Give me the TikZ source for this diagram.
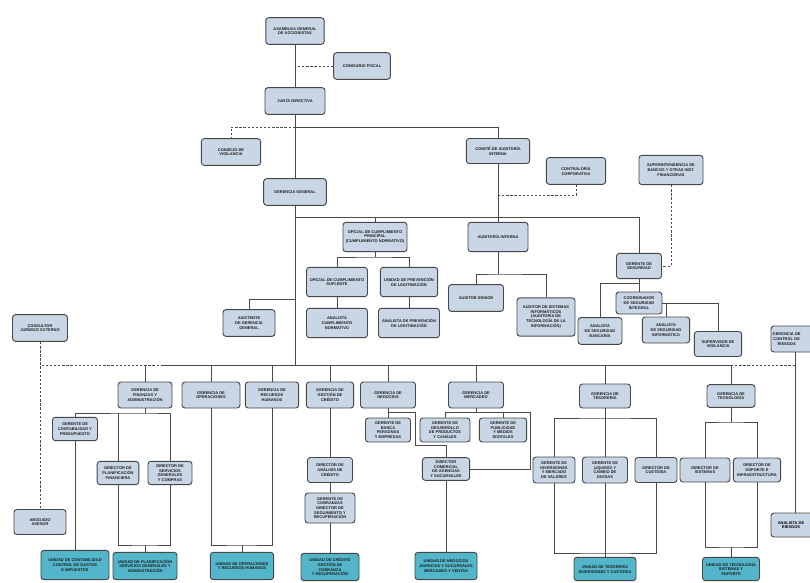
\documentclass[tikz,border=0pt]{standalone}
\usepackage{fontspec}
\setmainfont{Liberation Sans}
\newcommand{\orgfont}{\fontsize{3.4}{4.0}\selectfont\bfseries}
\definecolor{boxblue}{HTML}{C9D6E6}
\definecolor{boxteal}{HTML}{52B5CA}
\definecolor{linegray}{HTML}{4A4A4A}
\tikzset{
  orgbox/.style={draw=black!72, line width=0.8pt, rounded corners=2.5pt, fill=boxblue,
    align=center, inner sep=1pt, minimum height=0.8cm, font=\orgfont, text=black!88},
  box/.style={orgbox, minimum width=#1},
  box/.default=1.65cm,
  lowbox/.style={orgbox, minimum width=#1, minimum height=0.7cm},
  lowbox/.default=1.4cm,
  unit/.style={orgbox, fill=boxteal, minimum width=#1, minimum height=0.82cm},
  unit/.default=1.9cm,
  link/.style={draw=linegray, line width=0.65pt},
  dlink/.style={link, dashed, dash pattern=on 2pt off 1.5pt}
}
\begin{document}
\begin{tikzpicture}[x=0.03cm, y=-0.03cm]
\useasboundingbox (0,0) rectangle (810,582);

% Directorio
\node[box=1.75cm] (top) at (295,31) {ASAMBLEA GENERAL\\DE ACCIONISTAS};
\node[box=1.7cm] (comis) at (362,66) {COMISARIO FISCAL};
\node[box=1.8cm] (junta) at (295,101) {JUNTA DIRECTIVA};
\node[box=1.78cm] (ctrl) at (231,152) {CONSEJO DE\\VIGILANCIA};
\node[box=1.88cm] (gerg) at (295,192) {GERENCIA GENERAL};
\node[box=1.9cm, minimum height=0.75cm] (comite) at (498,151) {COMIT\'E DE AUDITOR\'IA\\INTERNA};
\node[box=1.78cm] (contral) at (576,171) {CONTRALOR\'IA\\CORPORATIVA};
\node[box=1.92cm, minimum height=0.88cm] (supint) at (671,170) {SUPERINTENDENCIA DE\\BANCOS Y OTRAS INST.\\FINANCIERAS};

% Staff
\node[box=1.92cm, minimum height=0.88cm] (ofcp) at (375,237) {OFICIAL DE CUMPLIMIENTO\\PRINCIPAL\\(CUMPLIMIENTO NORMATIVO)};
\node[box=1.8cm, minimum height=0.88cm] (audi) at (498,237) {AUDITOR\'IA INTERNA};
\node[box=1.83cm, minimum height=0.88cm] (ofcs) at (337,282) {OFICIAL DE CUMPLIMIENTO\\SUPLENTE};
\node[box=1.72cm, minimum height=0.88cm] (uprev) at (409,282) {UNIDAD DE PREVENCI\'ON\\DE LEGITIMACI\'ON};
\node[box=1.83cm, minimum height=0.88cm] (anl1) at (337,323) {ANALISTA\\CUMPLIMIENTO\\NORMATIVO};
\node[box=1.83cm, minimum height=0.88cm] (anl2) at (409,323) {ANALISTA DE PREVENCI\'ON\\DE LEGITIMACI\'ON};
\node[box=1.65cm] (aud1) at (476,298) {AUDITOR SENIOR};
\node[box=1.74cm, minimum height=1.15cm] (aud2) at (546,317) {AUDITOR DE SISTEMAS\\INFORM\'ATICOS\\(AUDITOR\'IA DE\\TECNOLOG\'IA DE LA\\INFORMACI\'ON)};

% Seguridad
\node[box=1.35cm, minimum height=0.76cm] (gsec) at (639,266) {GERENTE DE\\SEGURIDAD};
\node[lowbox=1.38cm, minimum height=0.66cm] (coord) at (639,303) {COORDINADOR\\DE SEGURIDAD\\INTEGRAL};
\node[box=1.32cm] (anseg) at (600,331) {ANALISTA\\DE SEGURIDAD\\BANCARIA};
\node[box=1.42cm, minimum height=0.78cm] (anseg2) at (666,330) {ANALISTA\\DE SEGURIDAD\\INFORM\'ATICA};
\node[box=1.42cm, minimum height=0.75cm] (vigil) at (718,344) {SUPERVISOR DE\\VIGILANCIA};

% Asesores
\node[box=1.65cm] (consul) at (40,328) {CONSULTOR\\JUR\'IDICO EXTERNO};
\node[box=1.56cm] (asist) at (249,323) {ASISTENTE\\DE GERENCIA\\GENERAL};
\node[box=1.44cm, minimum height=0.78cm, text width=0.72cm, xshift=0cm] (riesgo) at (795,339) {\hspace*{-0.5cm}GERENCIA DE\\\hspace*{-0.5cm}CONTROL DE\\\hspace*{-0.5cm}RIESGOS};
\node[box=1.44cm, minimum height=0.72cm] (anries) at (795,525) {};
\node[font=\orgfont, align=center, inner sep=0pt] (anriestxt) at (791,525) {ANALISTA DE\\RIESGOS};
\node[box=1.56cm, minimum height=0.75cm] (abog) at (40,522) {ABOGADO\\ASESOR};

% Gerencias de linea
\node[box=1.62cm, minimum height=0.78cm] (gA) at (145,395) {GERENCIA DE\\FINANZAS Y\\ADMINISTRACI\'ON};
\node[box=1.74cm, minimum height=0.78cm] (gB) at (211,395) {GERENCIA DE\\OPERACIONES};
\node[box=1.6cm, minimum height=0.78cm] (gC) at (272,395) {GERENCIA DE\\RECURSOS\\HUMANOS};
\node[box=1.42cm, minimum height=0.78cm] (gD) at (330,395) {GERENCIA DE\\GESTI\'ON DE\\CR\'EDITO};
\node[box=1.65cm, minimum height=0.78cm] (gE) at (388,395) {GERENCIA DE\\NEGOCIOS};
\node[box=1.65cm, minimum height=0.78cm] (gF) at (476,395) {GERENCIA DE\\MERCADEO};
\node[box=1.53cm, minimum height=0.72cm] (gG) at (605,396) {GERENCIA DE\\TESORER\'IA};
\node[box=1.44cm, minimum height=0.68cm] (gH) at (731,396) {GERENCIA DE\\TECNOLOG\'IA};

% Finanzas
\node[lowbox=1.35cm] (a1) at (75,429) {GERENTE DE\\CONTABILIDAD Y\\PRESUPUESTO};
\node[lowbox=1.25cm] (a2) at (118,473) {DIRECTOR DE\\PLANIFICACI\'ON\\FINANCIERA};
\node[lowbox=1.32cm] (a3) at (170,473) {DIRECTOR DE\\SERVICIOS\\GENERALES\\Y COMPRAS};

% Credito
\node[box=1.35cm, minimum height=0.75cm] (d1) at (330,470) {DIRECTOR DE\\AN\'ALISIS DE\\CR\'EDITO};
\node[box=1.5cm, minimum height=0.9cm] (d2) at (330,508) {GERENTE DE\\COBRANZAS\\DIRECTOR DE\\SEGUIMIENTO Y\\RECUPERACI\'ON};

% Negocios y mercadeo
\node[lowbox=1.35cm, minimum height=0.72cm] (e1) at (388,430) {GERENTE DE\\BANCA\\PERSONAS\\Y EMPRESAS};
\node[lowbox=1.42cm, minimum height=0.68cm] (dcom) at (446,469) {DIRECTOR\\COMERCIAL\\DE AGENCIAS\\Y SUCURSALES};
\node[lowbox=1.5cm, minimum height=0.72cm] (f1) at (445,430) {GERENTE DE\\DESARROLLO\\DE PRODUCTOS\\Y CANALES};
\node[lowbox=1.42cm, minimum height=0.72cm] (f2) at (503,430) {GERENTE DE\\PUBLICIDAD\\Y MEDIOS\\DIGITALES};

% Tesoreria
\node[lowbox=1.26cm, minimum height=0.78cm] (g1) at (554,470) {GERENTE DE\\INVERSIONES\\Y MERCADO\\DE VALORES};
\node[lowbox=1.35cm, minimum height=0.78cm] (g2) at (605,470) {GERENTE DE\\LIQUIDEZ Y\\CAMBIO DE\\DIVISAS};
\node[lowbox=1.26cm, minimum height=0.75cm] (g3) at (656,470) {DIRECTOR DE\\CUSTODIA};

% Tecnologia
\node[lowbox=1.5cm, minimum height=0.72cm] (h1) at (705,470) {DIRECTOR DE\\SISTEMAS};
\node[lowbox=1.42cm, minimum height=0.72cm] (h2) at (757,470) {DIRECTOR DE\\SOPORTE E\\INFRAESTRUCTURA};

% Unidades
\node[unit=2.04cm, minimum height=0.88cm] (t1) at (75,565) {UNIDAD DE CONTABILIDAD\\CONTROL DE GASTOS\\E IMPUESTOS};
\node[unit=1.92cm] (t2) at (145,566) {UNIDAD DE PLANIFICACI\'ON\\SERVICIOS GENERALES Y\\ADMINISTRACI\'ON};
\node[unit=1.9cm] (t3) at (242,566) {UNIDAD DE OPERACIONES\\Y RECURSOS HUMANOS};
\node[unit=1.74cm] (t4) at (330,567) {UNIDAD DE CR\'EDITO\\GESTI\'ON DE\\COBRANZA\\Y RECUPERACI\'ON};
\node[unit=1.86cm] (t5) at (446,566) {UNIDAD DE NEGOCIOS\\AGENCIAS Y SUCURSALES\\MERCADEO Y VENTAS};
\node[unit=1.86cm, minimum height=0.7cm] (t6) at (605,569) {UNIDAD DE TESORER\'IA\\INVERSIONES Y CUSTODIA};
\node[unit=1.71cm, minimum height=0.7cm] (t7) at (731,569) {UNIDAD DE TECNOLOG\'IA\\SISTEMAS Y\\SOPORTE};

% Junction points
\coordinate (j1) at (295,127);
\coordinate (c1) at (498,195);
\coordinate (j2) at (295,217);
\coordinate (o1) at (375,257);
\coordinate (au1) at (498,274);
\coordinate (s1) at (639,283);
\coordinate (b1) at (295,299);
\coordinate (mL) at (163,365);
\coordinate (mC) at (295,365);
\coordinate (mR) at (731,365);
\coordinate (aa) at (145,413);
\coordinate (ab) at (145,545);
\coordinate (bc) at (242,545);
\coordinate (ea) at (388,412);
\coordinate (eb) at (415,445);
\coordinate (fa) at (476,412);
\coordinate (fb) at (530,412);
\coordinate (ga) at (605,418);
\coordinate (gb) at (605,553);
\coordinate (ha) at (731,422);
\coordinate (hb) at (731,547);

% Top lines
\draw[link] (top) -- (junta);
\draw[dlink] (comis.west) -- (comis.west -| top.south);
\draw[link] (junta) -- (gerg);
\draw[link] (j1) -| (comite.north);
\draw[dlink] (j1) -| (ctrl.north);
\draw[link] (comite) -- (audi);
\draw[dlink] (c1) -| (contral.south);
\draw[dlink] (supint.south) |- (gsec.east);
\draw[link] (j2) -| (gsec.north);
\draw[link] (ofcp.north) -- (ofcp.north |- j2);

% Cumplimiento
\draw[link] (ofcp) -- (o1);
\draw[link] (ofcs.north) |- (o1) -| (uprev.north);
\draw[link] (ofcs) -- (anl1);
\draw[link] (uprev) -- (anl2);
\draw[link] (audi) -- (au1);
\draw[link] (aud1.north) |- (au1) -| (aud2.north);

% Seguridad
\draw[link] (gsec) -- (coord);
\draw[link] (anseg.north) |- (s1);
\draw[link] (coord.east) -| (vigil.north);
\draw[link] (anseg2.north) -- (anseg2.north |- coord.east);

% Main trunk
\draw[link] (gerg) -- (mC);
\draw[link] (b1) -| (asist.north);
\draw[link] (mL) -- (mR);
\draw[dlink] (mL) -| (consul.south);
\draw[dlink] (consul) -- (abog);
\draw[dlink] (mR) -- (mR -| riesgo.south);
\draw[link] (riesgo) -- (anries);
\foreach \g in {gA,gB,gC,gD,gE,gF,gG,gH}
  \draw[link] (\g.north) -- (\g.north |- mL);

% Finanzas
\draw[link] (gA) -- (aa);
\draw[link] (a1.north) |- (aa) -| (a3.north);
\draw[link] (a2.north) -- (a2.north |- aa);
\draw[link] (a1) -- (t1);
\draw[link] (a2.south) |- (ab) -| (a3.south);
\draw[link] (ab) -- (t2);
\draw[link] (gB.south) |- (bc) -| (gC.south);
\draw[link] (bc) -- (t3);

% Credito
\draw[link] (gD) -- (d1);
\draw[link] (d1) -- (d2);
\draw[link] (d2) -- (t4);

% Negocios
\draw[link] (gE) -- (e1);
\draw[link] (ea) -| (eb) -| (dcom.north);
\draw[link] (dcom) -- (t5);
\draw[link] (gF) -- (fa);
\draw[link] (f1.north) |- (fb) |- (dcom.east);
\draw[link] (f2.north) -- (f2.north |- fa);

% Tesoreria
\draw[link] (gG) -- (g2);
\draw[link] (g1.north) |- (ga) -| (g3.north);
\draw[link] (g1.south) |- (gb) -| (g3.south);
\draw[link] (g2) -- (t6);

% Tecnologia
\draw[link] (gH) -- (ha);
\draw[link] (h1.north) |- (ha) -| (h2.north);
\draw[link] (h1.south) |- (hb) -| (h2.south);
\draw[link] (hb) -- (t7);
\end{tikzpicture}
\end{document}
